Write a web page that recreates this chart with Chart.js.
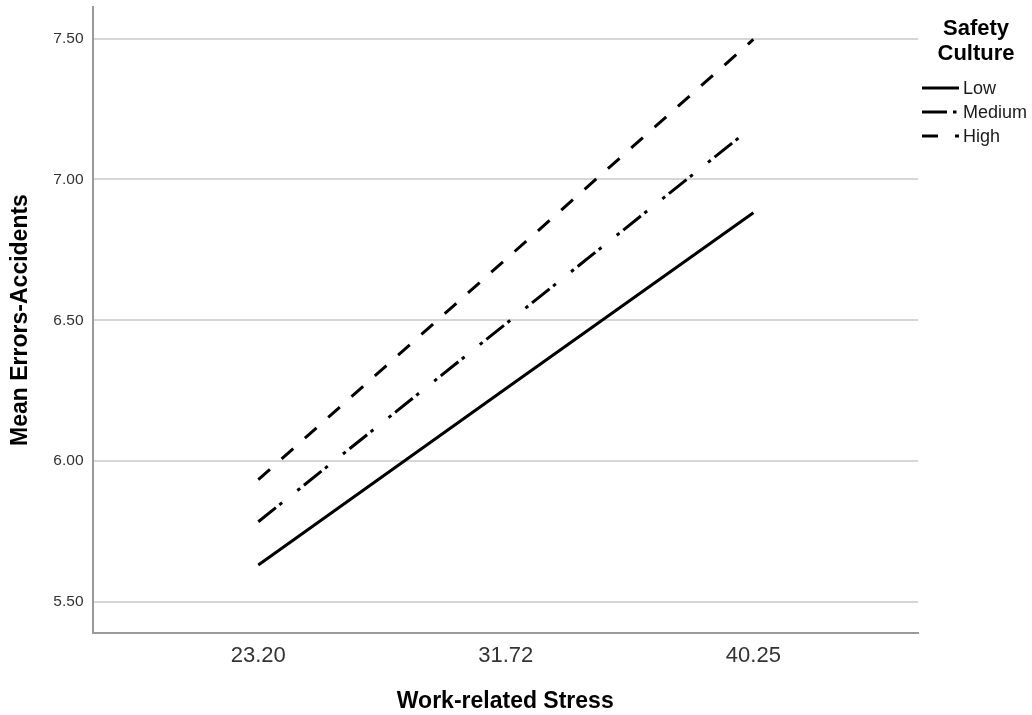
<!DOCTYPE html>
<html>
<head>
<meta charset="utf-8">
<script src="https://cdn.jsdelivr.net/npm/chart.js@4.4.1/dist/chart.umd.min.js"></script>
<style>
  html, body { margin: 0; padding: 0; background: #ffffff; }
  #wrap { width: 1032px; height: 715px; }
</style>
</head>
<body>
<div id="wrap"><canvas id="c" width="1032" height="715"></canvas></div>
<script>
// ---- Data ----
const stressLevels = [23.20, 31.72, 40.25];
const stressTickLabels = ['23.20', '31.72', '40.25'];
const lowValues = [5.631, 6.257, 6.882];
const mediumValues = [5.785, 6.487, 7.189];
const highValues = [5.934, 6.716, 7.497];
const yTickValues = [5.50, 6.00, 6.50, 7.00, 7.50];
const seriesNames = ['Low', 'Medium', 'High'];
const legendTitle = ['Safety', 'Culture'];
const xTitle = 'Work-related Stress';
const yTitle = 'Mean Errors-Accidents';

const FONT = '"Liberation Sans", Arial, Helvetica, sans-serif';
const dashes = {
  Low: [],
  Medium: [22.5, 4.5, 3.5, 19.5, 3.5, 4.9],
  High: [15.6, 15.6]
};
const legendDashes = {
  Low: [],
  Medium: [25, 6, 3.5, 20],
  High: [16, 17]
};

function toPoints(vals) {
  return stressLevels.map((x, i) => ({ x: x, y: vals[i] }));
}

const legendPlugin = {
  id: 'spssLegend',
  afterDraw(chart) {
    const ctx = chart.ctx;
    ctx.save();
    ctx.fillStyle = '#000';
    ctx.font = 'bold 22px ' + FONT;
    ctx.textAlign = 'center';
    ctx.textBaseline = 'middle';
    ctx.fillText(legendTitle[0], 976, 29);
    ctx.fillText(legendTitle[1], 976, 54);
    const ys = [89, 113, 137];
    ctx.font = '18px ' + FONT;
    ctx.textAlign = 'left';
    seriesNames.forEach((name, i) => {
      const y = ys[i];
      ctx.strokeStyle = '#000';
      ctx.lineWidth = 3;
      ctx.lineCap = 'butt';
      ctx.setLineDash(legendDashes[name]);
      ctx.beginPath();
      ctx.moveTo(922, y - 1);
      ctx.lineTo(959, y - 1);
      ctx.stroke();
      ctx.setLineDash([]);
      ctx.fillStyle = '#1a1a1a';
      ctx.fillText(name, 963, y);
    });
    ctx.restore();
  }
};

function mkDataset(name, vals) {
  return {
    label: name,
    data: toPoints(vals),
    borderColor: '#000000',
    backgroundColor: '#000000',
    borderWidth: 3,
    borderDash: dashes[name],
    borderCapStyle: 'butt',
    pointRadius: 0,
    pointHoverRadius: 0,
    tension: 0,
    fill: false
  };
}

new Chart(document.getElementById('c'), {
  type: 'line',
  data: {
    datasets: [
      mkDataset('Low', lowValues),
      mkDataset('Medium', mediumValues),
      mkDataset('High', highValues)
    ]
  },
  plugins: [legendPlugin],
  options: {
    responsive: false,
    devicePixelRatio: 1,
    animation: false,
    layout: { padding: { top: 7.3, right: 114, left: 0, bottom: 0 } },
    plugins: {
      legend: { display: false },
      tooltip: { enabled: false },
      title: { display: false }
    },
    scales: {
      x: {
        type: 'linear',
        min: 17.49,
        max: 45.92,
        afterBuildTicks(scale) {
          scale.ticks = stressLevels.map(v => ({ value: v }));
        },
        afterFit(scale) {
          scale.height = 82.3;
          scale.paddingLeft = 0;
          scale.paddingRight = 0;
        },
        grid: { display: false, drawTicks: false },
        border: { display: true, color: '#9a9a9a', width: 2 },
        ticks: {
          autoSkip: false,
          maxRotation: 0,
          padding: 10,
          color: '#333333',
          font: { family: FONT, size: 22 },
          callback: (v, i) => stressTickLabels[i]
        },
        title: {
          display: true,
          text: xTitle,
          color: '#000000',
          font: { family: FONT, size: 23, weight: 'bold' },
          padding: { top: 0, bottom: 0 }
        }
      },
      y: {
        type: 'linear',
        min: 5.391,
        max: 7.611,
        afterBuildTicks(scale) {
          scale.ticks = yTickValues.map(v => ({ value: v }));
        },
        afterFit(scale) {
          scale.width = 92.5;
          scale.paddingTop = 0;
          scale.paddingBottom = 0;
        },
        grid: { display: true, drawTicks: false, color: '#d6d6d6', lineWidth: 2 },
        border: { display: true, color: '#9a9a9a', width: 2 },
        ticks: {
          padding: 9,
          color: '#333333',
          font: { family: FONT, size: 15.5 },
          callback: v => Number(v).toFixed(2)
        },
        title: {
          display: true,
          text: yTitle,
          color: '#000000',
          font: { family: FONT, size: 23, weight: 'bold' },
          padding: { top: 7, bottom: 0 }
        }
      }
    }
  }
});
</script>
</body>
</html>
